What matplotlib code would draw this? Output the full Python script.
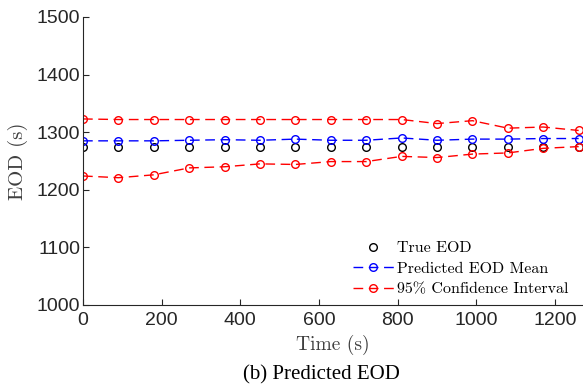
import matplotlib
matplotlib.use("Agg")
import matplotlib.pyplot as plt
import numpy as np

time_s = [0, 90, 180, 270, 360, 450, 540, 630, 720, 810, 900, 990, 1080, 1170, 1260]
true_eod = [1274, 1274, 1274, 1274, 1274, 1274, 1274, 1274, 1274, 1274, 1274, 1274, 1274, 1275, 1275]
pred_mean = [1285, 1285, 1285, 1286, 1287, 1286, 1288, 1286, 1286, 1290, 1286, 1288, 1288, 1289, 1289]
ci_upper = [1323, 1322, 1322, 1322, 1322, 1322, 1322, 1322, 1322, 1322, 1315, 1320, 1307, 1309, 1303]
ci_lower = [1224, 1221, 1226, 1238, 1240, 1245, 1244, 1249, 1249, 1258, 1256, 1262, 1264, 1272, 1275]
yticks = [1000, 1100, 1200, 1300, 1400, 1500]
xticks = [0, 200, 400, 600, 800, 1000, 1200]

plt.rcParams['mathtext.fontset'] = 'cm'
fig = plt.figure(figsize=(5.83, 3.91), dpi=100)
ax = fig.add_axes([83/583, 1-305/391, 1-83/583, (305-17)/391])

axc = '#262626'
ms = 5.5
ax.plot(time_s, true_eod, linestyle='none', marker='o', mfc='none', mec='black', ms=ms, mew=1.0, label='True EOD')
ax.plot(time_s, pred_mean, linestyle=(0, (7, 4)), color='blue', marker='o', mfc='none', mec='blue', ms=ms, mew=1.0, lw=1.0, label='Predicted EOD Mean')
ax.plot(time_s, ci_upper, linestyle=(0, (7, 4)), color='red', marker='o', mfc='none', mec='red', ms=ms, mew=1.0, lw=1.0, label='95% Confidence Interval')
ax.plot(time_s, ci_lower, linestyle=(0, (7, 4)), color='red', marker='o', mfc='none', mec='red', ms=ms, mew=1.0, lw=1.0)

ax.set_xlim(0, 1271)
ax.set_ylim(1000, 1500)
ax.set_xticks(xticks)
ax.set_yticks(yticks)
for s in ['top', 'right']:
    ax.spines[s].set_visible(False)
for s in ['left', 'bottom']:
    ax.spines[s].set_color(axc)
    ax.spines[s].set_linewidth(0.8)
ax.tick_params(direction='in', length=4, width=0.8, colors=axc, labelsize=14, pad=2)
ax.tick_params(axis='x', pad=5)
for lab in ax.get_xticklabels() + ax.get_yticklabels():
    lab.set_fontfamily('Liberation Sans')
ax.patch.set_alpha(0)

ax.set_xlabel('Time (s)', fontfamily='cmr10', fontsize=14, color='#404040', labelpad=4)
ax.set_ylabel('EOD (s)', fontfamily='cmr10', fontsize=15, color='#404040', labelpad=6)

leg = ax.legend(loc='lower right', bbox_to_anchor=(1.0, -0.02), frameon=False,
                prop={'family': 'cmr10', 'size': 11.5}, handlelength=2.6,
                handletextpad=0.2, labelspacing=0.4)

fig.text(0.5*(243+400)/583, 1-375/391, '(b) Predicted EOD', fontfamily='Liberation Serif',
         fontsize=15, ha='center', va='center')

fig.savefig('out.png', dpi=100)
